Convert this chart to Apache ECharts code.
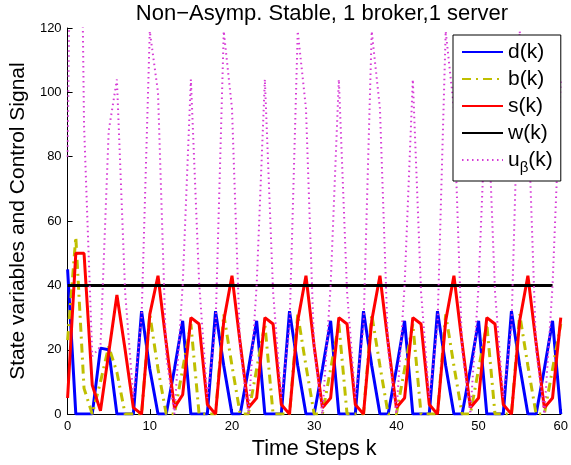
<!DOCTYPE html>
<html>
<head>
<meta charset="utf-8">
<script src="https://cdn.jsdelivr.net/npm/echarts@6/dist/echarts.min.js"></script>
<style>
  html, body { margin: 0; padding: 0; background: #fff; }
  #chart { width: 571px; height: 465px; }
</style>
</head>
<body>
<div id="chart"></div>
<script>
// Time steps k = 0 .. 60
const steps = Array.from({ length: 61 }, (_, i) => i);

// d(k): broker queue
const dVals = [45, 0, 0, 0, 20.5, 20, 0, 0, 0,
  32, 14, 0, 0, 14, 29, 0, 0, 0,
  32, 15, 0, 0, 14, 29, 0, 0, 0,
  32, 15, 0, 0, 14, 29, 0, 0, 0,
  32, 15, 0, 0, 14, 29, 0, 0, 0,
  32, 15, 0, 0, 14, 29, 0, 0, 0,
  32, 15, 0, 0, 14, 29, 0];

// b(k)
const bVals = [23, 55, 8, 0, 10, 21, 13, 0, 0,
  0, 31, 14, 0, 0, 14, 28, 0, 0,
  0, 31, 15, 0, 0, 14, 28, 0, 0,
  0, 31, 15, 0, 0, 14, 28, 0, 0,
  0, 31, 15, 0, 0, 14, 28, 0, 0,
  0, 31, 15, 0, 0, 14, 28, 0, 0,
  0, 31, 15, 0, 0, 14, 28];

// s(k): server queue
const sVals = [5, 50, 50, 9, 1, 19, 37, 20, 2,
  0, 31, 43, 22, 2, 6, 30, 28, 3,
  0, 29, 43, 22, 2, 5, 30, 28, 3,
  0, 29, 43, 21, 2, 5, 30, 28, 3,
  0, 29, 43, 22, 2, 5, 30, 28, 3,
  0, 29, 43, 22, 2, 5, 30, 28, 3,
  0, 29, 43, 22, 2, 5, 30];

// w(k): reference level, k = 0 .. 59
const wVals = [40, 40, 40, 40, 40, 40, 40, 40, 40, 40,
  40, 40, 40, 40, 40, 40, 40, 40, 40, 40,
  40, 40, 40, 40, 40, 40, 40, 40, 40, 40,
  40, 40, 40, 40, 40, 40, 40, 40, 40, 40,
  40, 40, 40, 40, 40, 40, 40, 40, 40, 40,
  40, 40, 40, 40, 40, 40, 40, 40, 40, 40];

// u_beta(k): control signal (the k = 1 value runs off the top of the axis)
const uVals = [80, 300, 90, 18, 21, 88, 104, 38, 5,
  30, 119, 100, 18, 0, 40, 104, 41, 5,
  27, 119, 95, 20, 0, 40, 104, 38, 5,
  27, 119, 95, 20, 0, 40, 104, 38, 5,
  27, 119, 95, 20, 0, 40, 104, 38, 5,
  27, 119, 95, 20, 0, 40, 104, 38, 5,
  27, 119, 95, 20, 0, 40, 104];

const xTicks = [0, 10, 20, 30, 40, 50, 60];
const yTicks = [0, 20, 40, 60, 80, 100, 120];

const FONT = 'Liberation Sans, Arial, Helvetica, sans-serif';

function pairs(vals) {
  return vals.map((v, i) => [steps[i], v]);
}

function lineSeries(name, vals, color, width, type) {
  return {
    name: name,
    type: 'line',
    data: pairs(vals),
    symbol: 'none',
    showSymbol: false,
    clip: true,
    lineStyle: { color: color, width: width, type: type },
    itemStyle: { color: color },
    emphasis: { disabled: true }
  };
}

const chart = echarts.init(document.getElementById('chart'), null, { renderer: 'canvas' });

chart.setOption({
  animation: false,
  backgroundColor: '#fff',
  textStyle: { fontFamily: FONT },
  title: {
    text: 'Non\u2212Asymp. Stable, 1 broker,1 server',
    left: 317,
    top: -2,
    textAlign: 'center',
    textStyle: { fontFamily: FONT, fontSize: 22, fontWeight: 'normal', color: '#000' }
  },
  grid: { left: 64, right: 5, top: 28, bottom: 48, containLabel: false },
  legend: {
    orient: 'vertical',
    left: 453,
    top: 35,
    padding: [6, 8, 6, 8],
    itemGap: 5,
    itemWidth: 41,
    itemHeight: 14,
    borderColor: '#000',
    borderWidth: 1,
    backgroundColor: '#fff',
    selectedMode: false,
    itemStyle: { opacity: 0 },
    textStyle: {
      fontFamily: FONT, fontSize: 21, lineHeight: 22, color: '#000',
      rich: {
        m: { fontFamily: FONT, fontSize: 21, lineHeight: 22, color: '#000' },
        sub: { fontFamily: FONT, fontSize: 15, color: '#000', padding: [15, 0, 0, 0] }
      }
    },
    formatter: function (name) {
      if (name === 'u\u03b2(k)') return '{m|u}{sub|\u03b2}{m|(k)}';
      return name;
    },
    data: ['d(k)', 'b(k)', 's(k)', 'w(k)', 'u\u03b2(k)']
  },
  xAxis: {
    type: 'value',
    min: 0, max: 60, interval: 10,
    name: 'Time Steps k',
    nameLocation: 'middle',
    nameGap: 22,
    nameTextStyle: { fontFamily: FONT, fontSize: 21.5, color: '#000' },
    axisLine: { show: true, onZero: false, lineStyle: { color: '#000', width: 1 } },
    axisTick: { show: true, inside: true, length: 5, lineStyle: { color: '#000' } },
    axisLabel: { fontFamily: FONT, fontSize: 13, color: '#000', margin: 6,
      formatter: v => xTicks.includes(v) ? String(v) : '' },
    splitLine: { show: false }
  },
  yAxis: {
    type: 'value',
    min: 0, max: 120, interval: 20,
    name: 'State variables and Control Signal',
    nameLocation: 'middle',
    nameGap: 35,
    nameTextStyle: { fontFamily: FONT, fontSize: 21, color: '#000' },
    axisLine: { show: true, onZero: false, lineStyle: { color: '#000', width: 1 } },
    axisTick: { show: true, inside: true, length: 5, lineStyle: { color: '#000' } },
    axisLabel: { fontFamily: FONT, fontSize: 13, color: '#000', margin: 6,
      formatter: v => yTicks.includes(v) ? String(v) : '' },
    splitLine: { show: false }
  },
  series: [
    lineSeries('d(k)', dVals, '#0000ff', 3, 'solid'),
    lineSeries('b(k)', bVals, '#bfbf00', 3, [9, 5, 2, 5]),
    lineSeries('s(k)', sVals, '#ff0000', 3, 'solid'),
    lineSeries('w(k)', wVals, '#000000', 3, 'solid'),
    lineSeries('u\u03b2(k)', uVals, '#d63cd6', 2, [1.5, 3.5])
  ]
});
</script>
</body>
</html>
